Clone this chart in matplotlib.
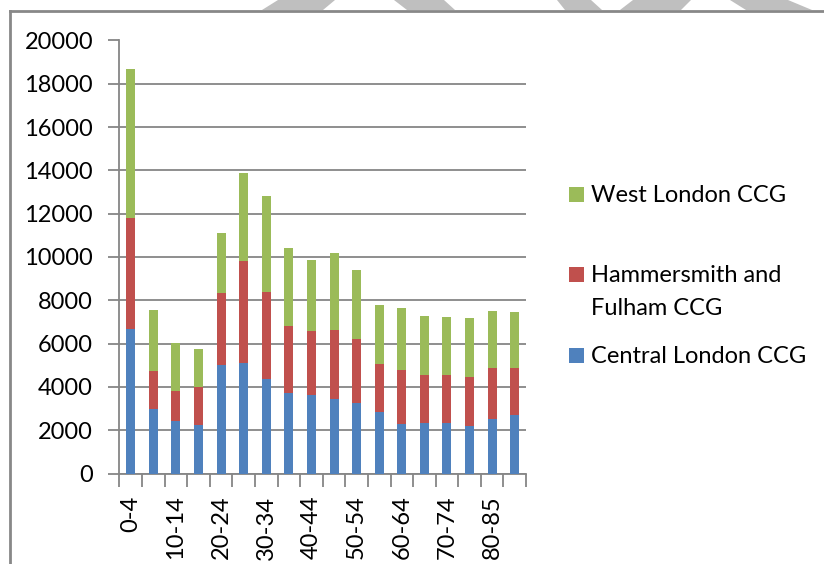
import matplotlib
matplotlib.use("Agg")
import matplotlib.pyplot as plt
from matplotlib.patches import Rectangle, Polygon
from matplotlib.lines import Line2D
import numpy as np

categories = ["0-4", "5-9", "10-14", "15-19", "20-24", "25-29", "30-34", "35-39",
              "40-44", "45-49", "50-54", "55-59", "60-64", "65-69", "70-74",
              "75-79", "80-85", "85+"]
central = [6660, 2960, 2410, 2220, 5000, 5120, 4370, 3740, 3620, 3450, 3250,
           2820, 2280, 2340, 2330, 2200, 2540, 2710]
hammersmith = [5155, 1790, 1400, 1790, 3315, 4680, 4030, 3090, 2940, 3200, 2940,
               2260, 2520, 2190, 2220, 2280, 2310, 2140]
west = [6855, 2825, 2210, 1730, 2800, 4080, 4440, 3600, 3290, 3530, 3190,
        2680, 2850, 2740, 2700, 2710, 2650, 2620]
series_names = ["Central London CCG", "Hammersmith and\nFulham CCG", "West London CCG"]
colors = ["#4F81BD", "#C0504D", "#9BBB59"]

W, H = 824, 564
fig = plt.figure(figsize=(W / 100, H / 100), dpi=100)
fig.patch.set_facecolor("white")
FONT = "Lato"
FS = 17

# axes placement (pixel-based)
x0, x1, yb, yt = 119.5, 526, 473.5, 40.5
ax = fig.add_axes([x0 / W, 1 - yb / H, (x1 - x0) / W, (yb - yt) / H])

x = np.arange(len(categories))
bottom = np.zeros(len(categories))
for vals, c in zip([central, hammersmith, west], colors):
    ax.bar(x, vals, width=0.4, bottom=bottom, color=c, edgecolor="none", zorder=3)
    bottom += np.array(vals)

ax.set_xlim(-0.5, len(categories) - 0.5)
ax.set_ylim(0, 20000)
ax.set_yticks(np.arange(0, 20001, 2000))
ax.yaxis.grid(True, color="#868686", linewidth=1.3, zorder=0)
ax.set_axisbelow(True)
for s in ["top", "right"]:
    ax.spines[s].set_visible(False)
for s in ["left", "bottom"]:
    ax.spines[s].set_color("#868686")
    ax.spines[s].set_linewidth(1.3)

ax.tick_params(axis="y", direction="out", length=8, width=1.3, color="#868686",
               pad=11, labelsize=FS)
ax.set_xticks(x[::2])
ax.set_xticklabels(categories[::2], rotation=90, fontsize=FS, fontfamily=FONT)
ax.set_xticks(np.arange(-0.5, len(categories), 1.0), minor=True)
ax.tick_params(axis="x", which="major", length=0, pad=16)
ax.tick_params(axis="x", which="minor", direction="out", length=9, width=1.3,
               color="#868686")
for lab in ax.get_yticklabels():
    lab.set_fontfamily(FONT)

# legend (manual, mimicking the original layout)
def px(xp, yp):
    return xp / W, 1 - yp / H

legend_items = [(2, 187, [202]), (1, 267, [282, 315]), (0, 348, [363])]
for idx, sq_top, baselines in legend_items:
    fx, fy = px(569, sq_top + 15)
    fig.patches.append(Rectangle((fx, fy), 14.5 / W, 15 / H, transform=fig.transFigure,
                                 facecolor=colors[idx], edgecolor="none"))
    for line, bl in zip(series_names[idx].split("\n"), baselines):
        tx, ty = px(591, bl)
        fig.text(tx, ty, line, fontsize=FS, fontfamily=FONT, va="baseline", ha="left")

# frame lines
fig.add_artist(Line2D([10 / W, 10 / W], [0, 1 - 11 / H], transform=fig.transFigure,
                      color="#888888", linewidth=2))
fig.add_artist(Line2D([10 / W, 1], [1 - 11 / H, 1 - 11 / H], transform=fig.transFigure,
                      color="#888888", linewidth=2))

# watermark fragments at top
shapes = [[(278, 0), (335, 0), (323, 10), (262, 10)],
          [(394, 0), (444, 0), (455, 10), (407, 10)],
          [(557, 0), (591, 0), (602, 10), (565, 10)],
          [(633, 0), (691, 0), (681, 10), (620, 10)],
          [(730, 0), (788, 0), (812, 10), (746, 10)]]
for sh in shapes:
    fig.patches.append(Polygon([px(a, b) for a, b in sh], closed=True,
                               transform=fig.transFigure, facecolor="#BFBFBF",
                               edgecolor="none"))

fig.savefig("out.png", dpi=100)
